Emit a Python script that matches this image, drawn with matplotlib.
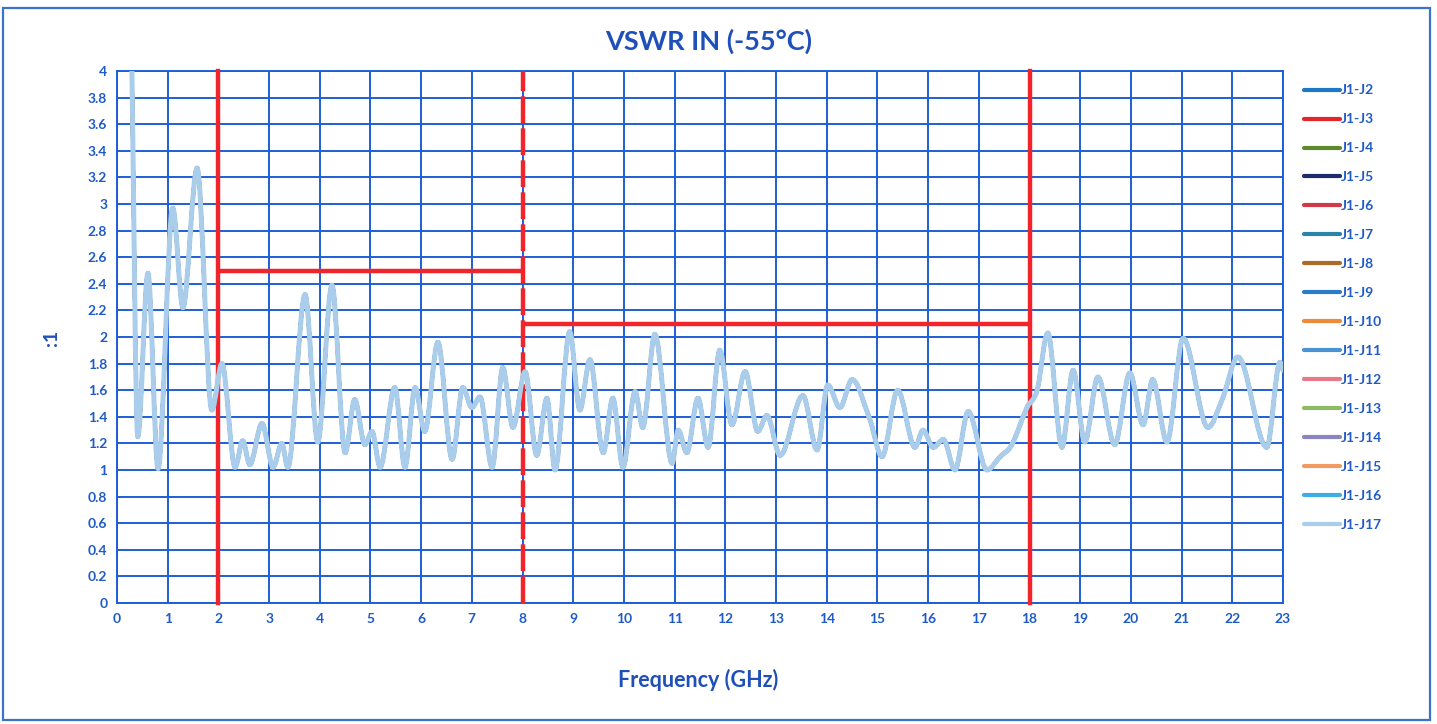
import numpy as np
import matplotlib
matplotlib.use("Agg")
import matplotlib.pyplot as plt
from matplotlib.path import Path
from matplotlib.patches import PathPatch, Rectangle
from matplotlib.lines import Line2D
from matplotlib.ticker import FuncFormatter, MultipleLocator

# ---- data ----
freq_ghz = [0.28, 0.41, 0.61, 0.81, 1.10, 1.30, 1.58, 1.87, 2.07, 2.33,
            2.48, 2.62, 2.86, 3.08, 3.25, 3.37, 3.71, 3.96, 4.24, 4.50,
            4.69, 4.89, 5.03, 5.19, 5.48, 5.68, 5.88, 6.07, 6.33, 6.61,
            6.82, 7.00, 7.16, 7.40, 7.61, 7.81, 8.05, 8.28, 8.48, 8.64,
            8.93, 9.13, 9.33, 9.59, 9.78, 9.98, 10.22, 10.37, 10.61, 10.95,
            11.07, 11.24, 11.46, 11.66, 11.89, 12.13, 12.39, 12.64, 12.82, 13.08,
            13.53, 13.81, 14.02, 14.26, 14.50, 14.85, 15.09, 15.40, 15.74, 15.90,
            16.10, 16.30, 16.53, 16.79, 17.16, 17.42, 17.65, 17.95, 18.15, 18.36,
            18.64, 18.86, 19.09, 19.35, 19.68, 19.98, 20.24, 20.43, 20.71, 21.03,
            21.52, 21.81, 22.11, 22.68, 22.94, 23.0]
vswr_in = [4.4, 1.25, 2.48, 1.01, 2.97, 2.22, 3.27, 1.45, 1.80, 1.02,
           1.22, 1.04, 1.35, 1.02, 1.20, 1.02, 2.32, 1.21, 2.39, 1.13,
           1.53, 1.19, 1.29, 1.02, 1.62, 1.02, 1.62, 1.29, 1.96, 1.08,
           1.62, 1.47, 1.55, 1.02, 1.77, 1.32, 1.74, 1.11, 1.54, 1.00,
           2.04, 1.45, 1.83, 1.13, 1.54, 1.02, 1.59, 1.32, 2.02, 1.05,
           1.30, 1.13, 1.54, 1.17, 1.90, 1.34, 1.74, 1.29, 1.41, 1.11,
           1.56, 1.15, 1.64, 1.47, 1.68, 1.38, 1.10, 1.60, 1.17, 1.30,
           1.17, 1.23, 1.00, 1.44, 1.00, 1.10, 1.19, 1.47, 1.60, 2.03,
           1.17, 1.75, 1.21, 1.70, 1.19, 1.73, 1.34, 1.68, 1.21, 1.99,
           1.32, 1.54, 1.85, 1.17, 1.81, 1.75]

series_names = ["J1-J2", "J1-J3", "J1-J4", "J1-J5", "J1-J6", "J1-J7", "J1-J8", "J1-J9",
                "J1-J10", "J1-J11", "J1-J12", "J1-J13", "J1-J14", "J1-J15", "J1-J16", "J1-J17"]
series_colors = ["#1F77C8", "#E3262B", "#5E8A2E", "#1F2B6E", "#D03A48", "#2A84A8",
                 "#B06A28", "#2B7CC4", "#EE8A3C", "#4A93D2", "#E57A86", "#8DBA62",
                 "#8B84C2", "#F39A64", "#3DAEE2", "#A9CDEA"]

# spec limit lines
limit_bands = [(2, 8, 2.5), (8, 18, 2.1)]
limit_verticals = [2, 8, 18]

blue_txt = "#1F5BC6"
grid_blue = "#1E5FD6"
red = "#F0242A"

plt.rcParams['font.family'] = ['Lato', 'DejaVu Sans']

fig = plt.figure(figsize=(14.37, 7.24), dpi=100)
ax = fig.add_axes([117/1437, 1-603/724, (1283-117)/1437, (603-71)/724])

ax.set_xlim(0, 23)
ax.set_ylim(0, 4)
ax.xaxis.set_major_locator(MultipleLocator(1))
ax.yaxis.set_major_locator(MultipleLocator(0.2))
ax.yaxis.set_major_formatter(FuncFormatter(lambda v, p: f"{v:.1f}".rstrip('0').rstrip('.')))
ax.grid(True, color=grid_blue, lw=1.4)
ax.set_axisbelow(True)
for s in ax.spines.values():
    s.set_color(grid_blue)
    s.set_linewidth(1.4)
ax.tick_params(length=0, colors=blue_txt, labelsize=10, pad=7)
for lab in ax.get_xticklabels() + ax.get_yticklabels():
    lab.set_fontweight('bold')


def smooth_path(x, y):
    x = np.asarray(x, float)
    y = np.asarray(y, float)
    n = len(x)
    m = np.zeros(n)
    for i in range(1, n - 1):
        if (y[i] - y[i-1]) * (y[i+1] - y[i]) > 0:
            m[i] = (y[i+1] - y[i-1]) / (x[i+1] - x[i-1])
    m[0] = (y[1] - y[0]) / (x[1] - x[0])
    m[-1] = (y[-1] - y[-2]) / (x[-1] - x[-2])
    verts = [(x[0], y[0])]
    codes = [Path.MOVETO]
    for i in range(n - 1):
        h = x[i+1] - x[i]
        verts += [(x[i] + h/3, y[i] + m[i]*h/3),
                  (x[i+1] - h/3, y[i+1] - m[i+1]*h/3),
                  (x[i+1], y[i+1])]
        codes += [Path.CURVE4] * 3
    return Path(verts, codes)


# limit lines
for (x0, x1, yv) in limit_bands:
    ax.plot([x0, x1], [yv, yv], color=red, lw=3.2, zorder=3, solid_capstyle='butt')
for xv in limit_verticals:
    ls = (0, (6, 1.2)) if xv == 8 else '-'
    ax.plot([xv, xv], [0, 4], color=red, lw=3.2, ls=ls, zorder=3, clip_on=False)

# series (all overlap; J1-J17 on top)
handles = []
for i, (name, col) in enumerate(zip(series_names, series_colors)):
    lw = 3.6 if name == "J1-J17" else 2.6
    pp = PathPatch(smooth_path(freq_ghz, vswr_in), fill=False, edgecolor=col, lw=lw,
                   capstyle='round', joinstyle='round', zorder=4 + i)
    ax.add_patch(pp)
    handles.append(Line2D([], [], color=col, lw=3.0, solid_capstyle='round'))

fig.legend(handles, series_names, loc='upper left',
           bbox_to_anchor=(1291/1437, 1-72/724), frameon=False,
           handlelength=2.6, handletextpad=0.1, labelspacing=1.22,
           prop={'size': 10, 'weight': 'bold'}, labelcolor=blue_txt)

fig.text(709/1437, 1-41/724, "VSWR IN (-55°C)", ha='center', va='center',
         fontsize=19.5, fontweight='bold', color="#1F4FB8")
fig.text(698/1437, 1-680/724, "Frequency (GHz)", ha='center', va='center',
         fontsize=15.5, fontweight='bold', color="#1F4FB8")
fig.text(52/1437, 1-338/724, ":1", ha='center', va='center', rotation=90,
         fontsize=14, fontweight='bold', color="#1F4FB8")

fig.patches.append(Rectangle((3/1437, 4/724), 1427/1437, 712/724, transform=fig.transFigure,
                             fill=False, edgecolor="#3B73C8", lw=1.6))

fig.savefig("out.png", dpi=100)
